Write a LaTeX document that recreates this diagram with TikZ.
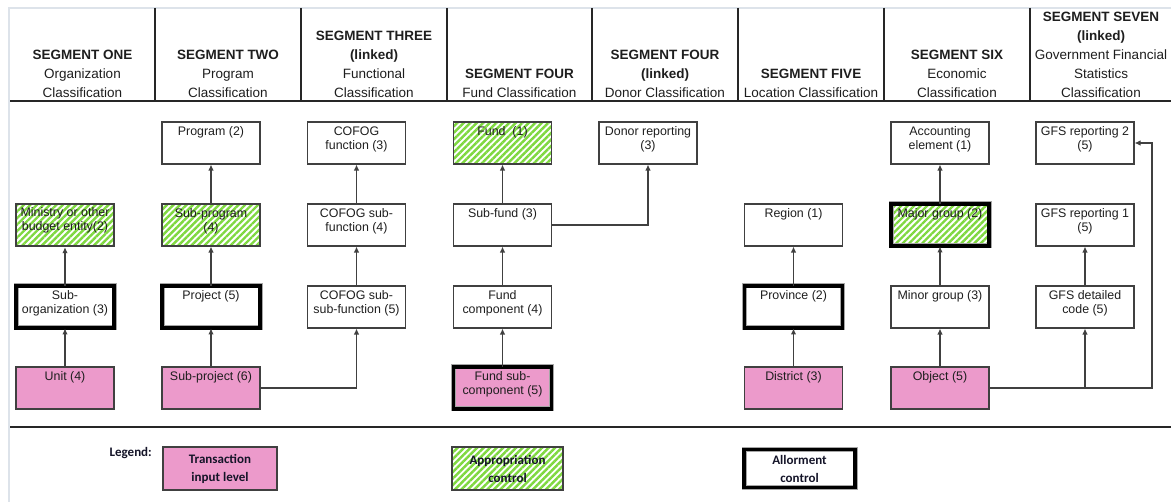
\documentclass[tikz,border=0pt]{standalone}
\usepackage{fontspec}
\setmainfont{Liberation Sans}
\newfontfamily\legendfont{Carlito}
\usetikzlibrary{arrows.meta,patterns.meta}

\definecolor{pinkfill}{HTML}{EC9ACB}
\definecolor{hatchgreen}{HTML}{7FD840}
\definecolor{boxline}{HTML}{404040}
\definecolor{textc}{HTML}{1E1E1E}
\definecolor{framec}{HTML}{DDE3EA}
\definecolor{legtext}{HTML}{141428}

\tikzset{
  cbox/.style={draw=boxline, line width=1.1pt, minimum width=98pt,
    minimum height=42pt, inner sep=0pt},
  inputlvl/.style={fill=pinkfill},
  approp/.style={pattern={Lines[angle=45,distance=4.6pt,line width=2.4pt]},
    pattern color=hatchgreen},
  allot/.style={draw=gray!70, line width=0.9pt, double=black,
    double distance=3.2pt},
  txt/.style={anchor=north, yshift=-5pt, inner sep=0pt, align=center,
    font=\fontsize{12.4}{14}\selectfont, text=textc},
  hdr/.style={anchor=south, inner sep=0pt, align=center,
    font=\fontsize{13.5}{19}\selectfont, text=textc},
  arr/.style={draw=boxline, line width=1.1pt,
    -{Latex[length=6pt,width=5.5pt]}},
  rulel/.style={draw=black!85, line width=1.3pt},
  framel/.style={draw=framec, line width=1.2pt},
  legtxt/.style={font=\legendfont\bfseries\fontsize{13}{18}\selectfont,
    text=legtext, align=center, inner sep=0pt},
  lbox/.style={draw=boxline, line width=1.1pt, minimum width=114pt,
    minimum height=43pt, legtxt},
}

\begin{document}
\begin{tikzpicture}[x=1pt,y=-1pt]
\useasboundingbox (0,0) rectangle (1171,502);

% table frame and rules
\draw[framel] (9,502) -- (9,8) -- (1171,8);
\draw[rulel] (10,101) -- (1171,101);
\draw[rulel] (10,427) -- (1171,427);
\foreach \x in {155,301,447,592,738,884,1030}
  \draw[rulel] (\x,8) -- (\x,101);

% column headings
\node[hdr] (h1) at (82.5,97.5) {\textbf{SEGMENT ONE}\\Organization\\Classification};
\node[hdr] (h2) at (228,97.5) {\textbf{SEGMENT TWO}\\Program\\Classification};
\node[hdr] (h3) at (374,97.5) {\textbf{SEGMENT THREE}\\\textbf{(linked)}\\Functional\\Classification};
\node[hdr] (h4) at (519.5,97.5) {\textbf{SEGMENT FOUR}\\Fund Classification};
\node[hdr] (h5) at (665,97.5) {\textbf{SEGMENT FOUR}\\\textbf{(linked)}\\Donor Classification};
\node[hdr] (h6) at (811,97.5) {\textbf{SEGMENT FIVE}\\Location Classification};
\node[hdr] (h7) at (957,97.5) {\textbf{SEGMENT SIX}\\Economic\\Classification};
\node[hdr] (h8) at (1101,97.5) {\textbf{SEGMENT SEVEN}\\\textbf{(linked)}\\Government Financial\\Statistics\\Classification};

% segment one
\node[cbox, approp, label={[txt]north:{Ministry or other\\budget entity(2)}}] (min) at (65,225) {};
\node[cbox, allot, label={[txt]north:{Sub-\\organization (3)}}] (suborg) at (65,307) {};
\node[cbox, inputlvl, label={[txt]north:{Unit (4)}}] (unit) at (65,388) {};

% segment two
\node[cbox, label={[txt]north:{Program (2)}}] (prog) at (211,143) {};
\node[cbox, approp, label={[txt]north:{Sub-program\\(4)}}] (subprog) at (211,225) {};
\node[cbox, allot, label={[txt]north:{Project (5)}}] (proj) at (211,307) {};
\node[cbox, inputlvl, label={[txt]north:{Sub-project (6)}}] (subproj) at (211,388) {};

% segment three
\node[cbox, label={[txt]north:{COFOG\\function (3)}}] (cof1) at (356.5,143) {};
\node[cbox, label={[txt]north:{COFOG sub-\\function (4)}}] (cof2) at (356.5,225) {};
\node[cbox, label={[txt]north:{COFOG sub-\\sub-function (5)}}] (cof3) at (356.5,307) {};

% segment four
\node[cbox, approp, label={[txt]north:{Fund~ (1)}}] (fund) at (502.5,143) {};
\node[cbox, label={[txt]north:{Sub-fund (3)}}] (subfund) at (502.5,225) {};
\node[cbox, label={[txt]north:{Fund\\component (4)}}] (fundcomp) at (502.5,307) {};
\node[cbox, inputlvl, allot, label={[txt]north:{Fund sub-\\component (5)}}] (fundsub) at (502.5,388) {};

% segment four (linked)
\node[cbox, label={[txt]north:{Donor reporting\\(3)}}] (donor) at (648,143) {};

% segment five
\node[cbox, label={[txt]north:{Region (1)}}] (region) at (793.5,225) {};
\node[cbox, allot, label={[txt]north:{Province (2)}}] (prov) at (793.5,307) {};
\node[cbox, inputlvl, label={[txt]north:{District (3)}}] (district) at (793.5,388) {};

% segment six
\node[cbox, label={[txt]north:{Accounting\\element (1)}}] (acc) at (940,143) {};
\node[cbox, approp, allot, label={[txt]north:{Major group (2)}}] (major) at (940,225) {};
\node[cbox, label={[txt]north:{Minor group (3)}}] (minor) at (940,307) {};
\node[cbox, inputlvl, label={[txt]north:{Object (5)}}] (object) at (940,388) {};

% segment seven
\node[cbox, label={[txt]north:{GFS reporting 2\\(5)}}] (gfs2) at (1085,143) {};
\node[cbox, label={[txt]north:{GFS reporting 1\\(5)}}] (gfs1) at (1085,225) {};
\node[cbox, label={[txt]north:{GFS detailed\\code (5)}}] (gfsd) at (1085,307) {};

% roll-up connectors
\draw[arr] (unit.north) -- (suborg.south);
\draw[arr] (suborg.north) -- (min.south);
\draw[arr] (subproj.north) -- (proj.south);
\draw[arr] (proj.north) -- (subprog.south);
\draw[arr] (subprog.north) -- (prog.south);
\draw[arr] (cof3.north) -- (cof2.south);
\draw[arr] (cof2.north) -- (cof1.south);
\draw[arr] (fundsub.north) -- (fundcomp.south);
\draw[arr] (fundcomp.north) -- (subfund.south);
\draw[arr] (subfund.north) -- (fund.south);
\draw[arr] (district.north) -- (prov.south);
\draw[arr] (prov.north) -- (region.south);
\draw[arr] (object.north) -- (minor.south);
\draw[arr] (minor.north) -- (major.south);
\draw[arr] (major.north) -- (acc.south);
\draw[arr] (gfsd.north) -- (gfs1.south);

% linked classifications
\draw[arr] (subproj.east) -| (cof3.south);
\draw[arr] (subfund.east) -| (donor.south);
\draw[arr] (object.east) -| (gfsd.south);
\coordinate (bend) at (1152,388);
\draw[arr] (object.east) -- (bend) |- (gfs2.east);

% legend
\node[legtxt, anchor=east] (legend) at (152,453) {Legend:};
\node[lbox, inputlvl] (l1) at (220,468.5) {Transaction\\input level};
\node[lbox, approp, minimum width=111pt] (l2) at (507.5,468.5) {Appropriation\\control};
\node[lbox, allot, minimum width=111pt, minimum height=38pt] (l3) at (799.5,468.5) {Allorment\\control};
\end{tikzpicture}
\end{document}
